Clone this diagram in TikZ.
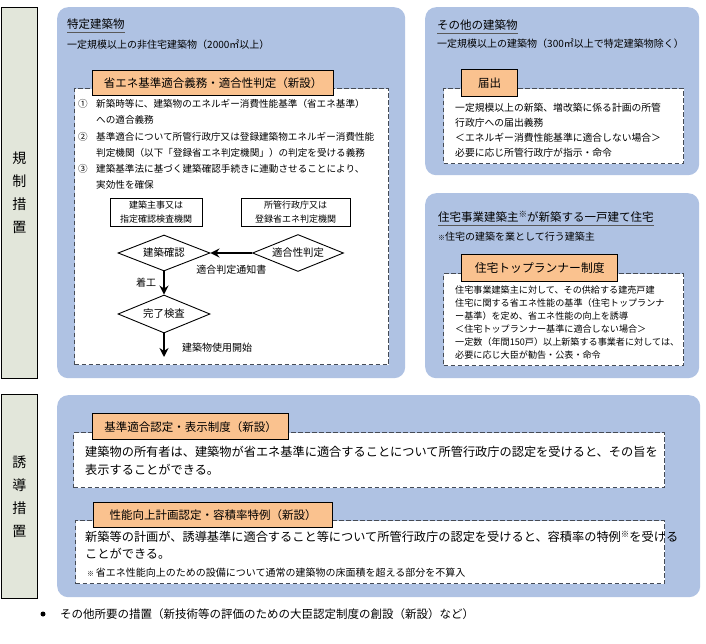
\documentclass[tikz,border=0pt]{standalone}
\usepackage{fontspec}
\setmainfont{Noto Sans CJK JP}
\usetikzlibrary{arrows.meta,positioning,shapes.geometric}
\definecolor{pblue}{HTML}{AFC2E3}
\definecolor{sidegray}{HTML}{E2E6DA}
\definecolor{tagorange}{HTML}{FAC28F}
\definecolor{dashgray}{HTML}{454B55}
\newcommand{\jfs}[2]{\fontsize{#1}{#2}\selectfont}
\newcommand{\kome}{\raisebox{0.3em}{\jfs{8.5}{8.5}※}}

\begin{document}
\begin{tikzpicture}[x=1pt, y=-1pt,
  panel/.style={fill=pblue, rounded corners=11pt, inner sep=0pt, anchor=north west},
  sidebox/.style={draw, line width=1.3pt, fill=sidegray, inner sep=0pt,
    anchor=north west, align=center, font=\jfs{14}{23}},
  dashbox/.style={draw=dashgray, line width=1.1pt, dash pattern=on 4.5pt off 2.5pt,
    fill=white, inner sep=0pt, anchor=north west},
  tagbox/.style={draw, line width=1.4pt, fill=tagorange, inner sep=0pt,
    anchor=north west, font=\jfs{11.5}{11.5}},
  titletext/.style={anchor=west, inner xsep=0pt, inner ysep=3pt, font=\jfs{11.5}{11.5}},
  uline/.style={draw=black!65, line width=0.8pt},
  subtext/.style={anchor=west, inner sep=0pt, font=\jfs{10}{10}},
  bodytext/.style={anchor=north west, inner sep=0pt, align=left},
  flowbox/.style={draw, line width=0.9pt, inner sep=0pt, align=center, font=\jfs{9}{14}},
  flowdia/.style={draw, diamond, aspect=2.5, line width=0.9pt, inner sep=0pt,
    font=\jfs{10.4}{10.4}},
  flowarrow/.style={line width=1.7pt, -{Stealth[length=9pt, width=9pt, inset=3pt]}},
  flowlabel/.style={inner sep=0pt, font=\jfs{10}{10}}]
\useasboundingbox (0,0) rectangle (706,644);
% ---- side labels --------------------------------------------------
\node[sidebox, minimum width=36, minimum height=371] (kisei) at (0.7,7) {規\\制\\措\\置};
\node[sidebox, minimum width=36, minimum height=204] (yudo) at (0.7,394) {誘\\導\\措\\置};
% ---- blue panels --------------------------------------------------
\node[panel, minimum width=348, minimum height=371] (tokutei) at (57,7) {};
\node[panel, minimum width=274, minimum height=168] (sonota) at (425,7) {};
\node[panel, minimum width=274, minimum height=185] (jutaku) at (425,193) {};
\node[panel, minimum width=643, minimum height=202] (yudoP) at (57,395) {};
% ---- specified buildings ------------------------------------------
\node[titletext] (tokuteiT) at (67,24) {特定建築物};
\draw[uline] (tokuteiT.south west) -- (tokuteiT.south east);
\node[subtext] (tokuteiS) at (67,45) {一定規模以上の非住宅建築物（2000㎡以上）};
\node[dashbox, minimum width=314, minimum height=276] (gimuD) at (74,88) {};
\node[tagbox, minimum width=241, minimum height=25] (gimuT) at (92,70)
  {省エネ基準適合義務・適合性判定（新設）};
\node[bodytext, font=\jfs{9.6}{16.2}] (gimuL) at (78,99.2)
  {\makebox[18pt][l]{①}新築時等に、建築物のエネルギー消費性能基準（省エネ基準）\\
   \makebox[18pt][l]{}への適合義務\\
   \makebox[18pt][l]{②}基準適合について所管行政庁又は登録建築物エネルギー消費性能\\
   \makebox[18pt][l]{}判定機関（以下「登録省エネ判定機関」）の判定を受ける義務\\
   \makebox[18pt][l]{③}建築基準法に基づく建築確認手続きに連動させることにより、\\
   \makebox[18pt][l]{}実効性を確保};
% ---- flow of the procedure ----------------------------------------
\node[flowbox, minimum width=92, minimum height=28] (shuji) at (156,212)
  {建築主事又は\\指定確認検査機関};
\node[flowbox, minimum width=109, minimum height=28] (gyosei) at (295.5,212)
  {所管行政庁又は\\登録省エネ判定機関};
\node[flowdia, minimum width=92, minimum height=36] (kakunin) at (164,253) {建築確認};
\node[flowdia, minimum width=91, minimum height=37] (hantei) at (298,253) {適合性判定};
\node[flowdia, minimum width=92, minimum height=38] (kanryo) at (164,314) {完了検査};
\coordinate (kaishi) at (164,357);
\draw[flowarrow] (hantei) -- (kakunin)
  node[flowlabel, midway, below=11pt] (tsuchi) {適合判定通知書};
\draw[flowarrow] (kakunin) -- (kanryo)
  node[flowlabel, midway, left=7pt] (chako) {着工};
\draw[flowarrow] (kanryo) -- (kaishi);
\node[flowlabel, anchor=west] (shiyo) at (182,348) {建築物使用開始};
% ---- other buildings ----------------------------------------------
\node[titletext] (sonotaT) at (437,25) {その他の建築物};
\draw[uline] (sonotaT.south west) -- (sonotaT.south east);
\node[subtext] (sonotaS) at (437,44) {一定規模以上の建築物（300㎡以上で特定建築物除く）};
\node[dashbox, minimum width=240, minimum height=75] (todokeD) at (443,88) {};
\node[tagbox, minimum width=56, minimum height=27] (todokeT) at (461,69) {届出};
\node[bodytext, font=\jfs{9.8}{15}] (todokeL) at (455,103.1)
  {一定規模以上の新築、増改築に係る計画の所管\\
   行政庁への届出義務\\
   ＜エネルギー消費性能基準に適合しない場合＞\\
   必要に応じ所管行政庁が指示・命令};
% ---- detached houses ----------------------------------------------
\node[titletext] (jutakuT) at (438,217) {住宅事業建築主\kome が新築する一戸建て住宅};
\draw[uline] (jutakuT.south west) -- (jutakuT.south east);
\node[subtext] (jutakuS) at (438,237) {{\jfs{7}{7}※}住宅の建築を業として行う建築主};
\node[dashbox, minimum width=240, minimum height=92] (toprD) at (443,273) {};
\node[tagbox, minimum width=156, minimum height=27, font=\jfs{11.8}{11.8}] (toprT)
  at (461,254) {住宅トップランナー制度};
\node[bodytext, font=\jfs{9.1}{13}] (toprL) at (455,285.5)
  {住宅事業建築主に対して、その供給する建売戸建\\
   住宅に関する省エネ性能の基準（住宅トップランナ\\
   ー基準）を定め、省エネ性能の向上を誘導\\
   ＜住宅トップランナー基準に適合しない場合＞\\
   一定数（年間150戸）以上新築する事業者に対しては、\\
   必要に応じ大臣が勧告・公表・命令};
% ---- inducement measures ------------------------------------------
\node[dashbox, minimum width=591, minimum height=55] (ninteiD) at (73,432) {};
\node[tagbox, minimum width=196, minimum height=26] (ninteiT) at (92,413)
  {基準適合認定・表示制度（新設）};
\node[bodytext, font=\jfs{12.2}{18}] (ninteiL) at (85,445.9)
  {建築物の所有者は、建築物が省エネ基準に適合することについて所管行政庁の認定を受けると、その旨を\\
   表示することができる。};
\node[dashbox, minimum width=589, minimum height=63] (keikakuD) at (75,520) {};
\node[tagbox, minimum width=239, minimum height=25] (keikakuT) at (93,502)
  {性能向上計画認定・容積率特例（新設）};
\node[bodytext, font=\jfs{12.2}{17}] (keikakuL) at (85,530.9)
  {新築等の計画が、誘導基準に適合すること等について所管行政庁の認定を受けると、容積率の特例\kome を受ける\\
   ことができる。};
\node[subtext] (keikakuN) at (87,573) {{\jfs{7}{7}※}\,省エネ性能向上のための設備について通常の建築物の床面積を超える部分を不算入};
% ---- other measures -----------------------------------------------
\node[circle, fill, inner sep=0pt, minimum size=5] (dot) at (43,614) {};
\node[subtext, font=\jfs{11.5}{11.5}] (shoyo) at (60,614)
  {その他所要の措置（新技術等の評価のための大臣認定制度の創設（新設）など）};
\end{tikzpicture}
\end{document}
